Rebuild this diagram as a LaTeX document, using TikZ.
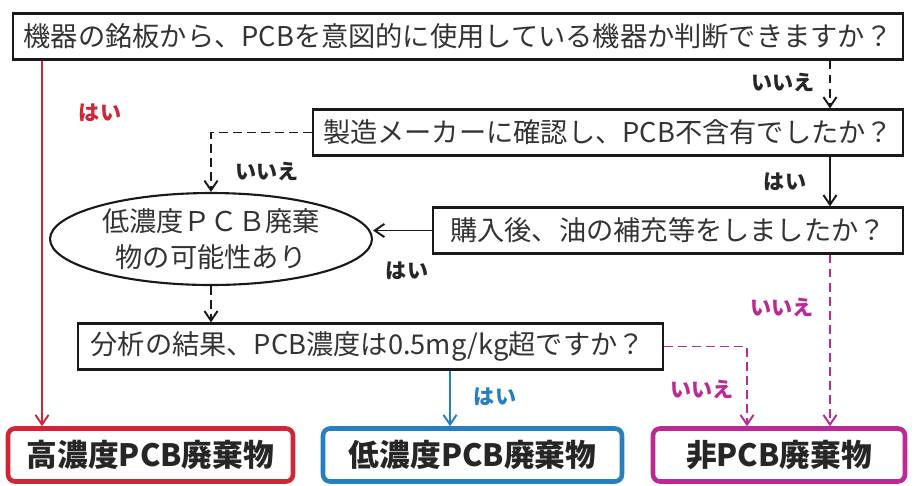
\documentclass[tikz,border=0pt]{standalone}
\usepackage{fontspec}
\setmainfont{Noto Sans CJK JP}
\usetikzlibrary{arrows.meta,shapes.geometric}
\definecolor{hired}{RGB}{205,38,55}
\definecolor{loblue}{RGB}{38,128,192}
\definecolor{nonmag}{RGB}{188,40,150}

\begin{document}
\begin{tikzpicture}[x=0.02cm,y=-0.02cm,
  qbox/.style={draw=black!90,line width=1.3pt,rectangle,inner sep=0pt,minimum height=0.92cm,font=\fontsize{15.5}{18}\selectfont,text=black!80},
  endbox/.style={line width=2.6pt,rounded corners=4pt,inner sep=0pt,minimum height=1.06cm,fill=white,font=\fontsize{17.5}{20}\selectfont\bfseries,text=black!85},
  lbl/.style={font=\fontsize{12}{14}\selectfont\bfseries,inner sep=0pt,text=black!85},
  link/.style={line width=1.1pt,-{Straight Barb[length=5.5pt,width=7.5pt]}},
  dlink/.style={link,dash pattern=on 5pt off 3pt}]
\useasboundingbox (0,0) rectangle (914,485);
\node[qbox,minimum width=17.8cm] (q1) at (458,36.5) {機器の銘板から、PCBを意図的に使用している機器か判断できますか？};
\node[qbox,minimum width=11.8cm] (q2) at (608,132.5) {製造メーカーに確認し、PCB不含有でしたか？};
\node[qbox,minimum width=9.4cm] (q3) at (668,230.5) {購入後、油の補充等をしましたか？};
\node[draw=black!90,line width=1.2pt,ellipse,inner sep=0pt,minimum width=6.44cm,minimum height=1.84cm,align=center,font=\fontsize{15.5}{20.5}\selectfont,text=black!80] (ell) at (211,239) {低濃度ＰＣＢ廃棄\\物の可能性あり};
\node[qbox,text width=11.2cm,inner xsep=0.25cm,align=left] (q4) at (370.5,346.5) {分析の結果、PCB濃度は0.5mg/kg超ですか？};
\node[endbox,draw=hired,minimum width=5.7cm] (r1) at (150.5,455) {高濃度PCB廃棄物};
\node[endbox,draw=loblue,minimum width=5.98cm] (r2) at (472.5,455) {低濃度PCB廃棄物};
\node[endbox,draw=nonmag,minimum width=5.04cm] (r3) at (779,455) {非PCB廃棄物};
\coordinate (redx) at (42,0);
\coordinate (rightx) at (830,0);
\coordinate (bluex) at (450,0);
\coordinate (magx) at (747,0);
\draw[link,hired] (q1.south -| redx) -- (r1.north -| redx);
\draw[dlink,black!90] (q1.south -| rightx) -- (q2.north -| rightx);
\draw[dlink,black!90] (q2.west) -| (ell.north);
\draw[link,black!90] (q2.south -| rightx) -- (q3.north -| rightx);
\draw[link,black!90] (q3.west) -- (q3.west -| ell.east);
\draw[dlink,black!90] (ell.south) -- (q4.north -| ell.south);
\draw[link,loblue] (q4.south -| bluex) -- (r2.north -| bluex);
\draw[dlink,nonmag] (q4.east) -| (r3.north -| magx);
\draw[dlink,nonmag] (q3.south -| rightx) -- (r3.north -| rightx);
\node[lbl,text=hired] (l1) at (100,113) {はい};
\node[lbl] (l2) at (783,83) {いいえ};
\node[lbl] (l3) at (267,172) {いいえ};
\node[lbl] (l4) at (785,182) {はい};
\node[lbl] (l5) at (407,271) {はい};
\node[lbl,text=nonmag] (l6) at (782,308) {いいえ};
\node[lbl,text=nonmag] (l7) at (702,390) {いいえ};
\node[lbl,text=loblue] (l8) at (495,397) {はい};
\end{tikzpicture}
\end{document}
